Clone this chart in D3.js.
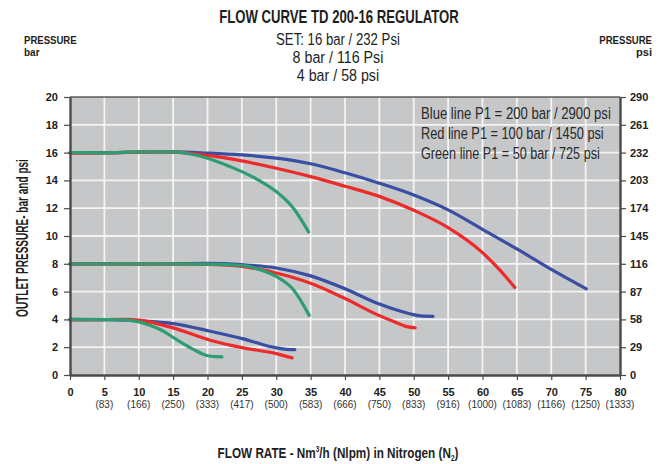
<!DOCTYPE html>
<html>
<head>
<meta charset="utf-8">
<script src="https://cdn.jsdelivr.net/npm/d3@7"></script>
<style>
  html, body { margin: 0; padding: 0; background: #ffffff; }
  svg { display: block; }
  .cond { font-family: "Liberation Sans", Arial, sans-serif; }
  .tick-font { font-family: "Liberation Sans", Arial, sans-serif; }
</style>
</head>
<body>
<svg id="chart" width="665" height="464"></svg>
<script>
// ---- data -------------------------------------------------------------
const flowTicks = [0, 5, 10, 15, 20, 25, 30, 35, 40, 45, 50, 55, 60, 65, 70, 75, 80];
const nlpmLabels = ["", "(83)", "(166)", "(250)", "(333)", "(417)", "(500)", "(583)", "(666)",
                    "(750)", "(833)", "(916)", "(1000)", "(1083)", "(1166)", "(1250)", "(1333)"];
const barTicks = [0, 2, 4, 6, 8, 10, 12, 14, 16, 18, 20];
const psiLabels = ["0", "29", "58", "87", "116", "145", "174", "203", "232", "261", "290"];

// [flow Nm3/h, outlet pressure bar]
const blue16 = [[0,16],[5,16],[10,16.04],[15,16.05],[20,15.97],[25,15.84],[30,15.6],[35,15.2],[40,14.55],
                [45,13.8],[50,12.95],[55,11.88],[60,10.48],[65,9.07],[70,7.6],[75.1,6.2]];
const red16 = [[0,15.96],[5,15.97],[10,16.03],[15,16.03],[20,15.8],[25,15.4],[30,14.87],[35,14.27],
               [40,13.58],[45,12.85],[50,11.85],[55,10.6],[60,8.8],[62.5,7.56],[64.7,6.3]];
const green16 = [[0,16],[5,15.98],[10,16.05],[15,16.05],[17.5,15.9],[20,15.6],[22.5,15.15],[25,14.63],
                 [27.5,14.0],[30,13.2],[32.5,12.0],[34.7,10.3]];

const blue8 = [[0,8],[5,8.01],[10,8],[15,8.01],[20,8.03],[25,7.94],[30,7.7],[35,7.13],[40,6.2],
               [45,5.1],[49.4,4.41],[51,4.25],[52.8,4.22]];
const red8 = [[0,7.98],[5,7.98],[10,7.98],[15,7.98],[20,7.95],[25,7.81],[30,7.34],[35,6.6],[40,5.5],
              [45,4.27],[47,3.86],[49,3.48],[50.2,3.39]];
const green8 = [[0,8],[5,8],[10,8],[15,8],[20,7.98],[25,7.88],[27.5,7.6],[30,7.09],[32.5,6.14],[34.8,4.29]];

const blue4 = [[0,4],[5,3.98],[8,3.95],[10,3.9],[15,3.7],[20.4,3.15],[25.2,2.6],[30,1.95],[31.5,1.85],[32.7,1.83]];
const red4 = [[0,3.96],[5,3.99],[8,4.0],[10,3.95],[15,3.39],[20.4,2.5],[25.2,1.95],[30,1.54],[32.3,1.23]];
const green4 = [[0,4],[5,3.98],[8,3.97],[9.7,3.86],[11.5,3.6],[13.1,3.27],[15.5,2.55],[18,1.83],
                [19.9,1.4],[21,1.32],[22.1,1.31]];

const series = [
  { color: "#3a4ea3", curves: [blue16, blue8, blue4] },
  { color: "#ee2a2a", curves: [red16, red8, red4] },
  { color: "#2e9e72", curves: [green16, green8, green4] }
];

const legendLines = [
  "Blue line P1 = 200 bar / 2900 psi",
  "Red line P1 = 100 bar / 1450 psi",
  "Green line P1 = 50 bar / 725 psi"
];
const legendWidths = [190, 183, 179];

const setLines = ["SET: 16 bar / 232 Psi", "8 bar / 116 Psi", "4 bar / 58 psi"];

// ---- layout -----------------------------------------------------------
const svg = d3.select("#chart");
const plot = { left: 70, right: 620, top: 97, bottom: 375 };

const x = d3.scaleLinear().domain([0, 80]).range([plot.left, plot.right]);
const y = d3.scaleLinear().domain([0, 20]).range([plot.bottom, plot.top]);

// squeeze a text horizontally about its anchor point so it spans `w` pixels
function condense(sel, w, ax, ay) {
  const bw = sel.node().getBBox().width;
  const k = bw > 0 ? w / bw : 1;
  sel.attr("transform", `translate(${ax},${ay}) scale(${k},1) translate(${-ax},${-ay})`);
  return k;
}
function squeezeBy(sel, k, ax, ay) {
  sel.attr("transform", `translate(${ax},${ay}) scale(${k},1) translate(${-ax},${-ay})`);
}

// plot background
svg.append("rect")
  .attr("x", plot.left).attr("y", plot.top)
  .attr("width", plot.right - plot.left).attr("height", plot.bottom - plot.top)
  .attr("fill", "#c6c7c9");

// grid
const grid = svg.append("g").attr("stroke", "#f4f4f4").attr("stroke-width", 1.8);
grid.selectAll("line.v").data(flowTicks.filter(d => d > 0 && d < 80)).join("line")
  .attr("x1", d => x(d)).attr("x2", d => x(d))
  .attr("y1", plot.top).attr("y2", plot.bottom);
grid.selectAll("line.h").data(barTicks.filter(d => d > 0 && d < 20)).join("line")
  .attr("x1", plot.left).attr("x2", plot.right)
  .attr("y1", d => y(d)).attr("y2", d => y(d));

// top frame line
svg.append("line")
  .attr("x1", plot.left).attr("x2", plot.right)
  .attr("y1", plot.top).attr("y2", plot.top)
  .attr("stroke", "#5a5a5a").attr("stroke-width", 1.5);

// curves
const line = d3.line()
  .x(d => x(d[0])).y(d => y(d[1]))
  .curve(d3.curveMonotoneX);

series.forEach(s => {
  svg.append("g").selectAll("path").data(s.curves).join("path")
    .attr("d", line)
    .attr("fill", "none")
    .attr("stroke", s.color)
    .attr("stroke-width", 3.2)
    .attr("stroke-linecap", "round")
    .attr("stroke-linejoin", "round");
});

// axes
function styleAxis(g) {
  g.select(".domain").attr("stroke", "#4a4a4a").attr("stroke-width", 2.4);
  g.selectAll(".tick line").attr("stroke", "#4a4a4a").attr("stroke-width", 1.2);
  g.selectAll(".tick text")
    .attr("class", "tick-font")
    .attr("font-size", 11).attr("font-weight", "bold").attr("fill", "#222");
}

const leftAxis = svg.append("g")
  .attr("transform", `translate(${plot.left},0)`)
  .call(d3.axisLeft(y).tickValues(barTicks).tickSize(6).tickSizeOuter(0).tickPadding(6));
styleAxis(leftAxis);

const rightAxis = svg.append("g")
  .attr("transform", `translate(${plot.right},0)`)
  .call(d3.axisRight(y).tickValues(barTicks).tickSize(6).tickSizeOuter(0).tickPadding(4)
        .tickFormat((d, i) => psiLabels[i]));
styleAxis(rightAxis);

const bottomAxis = svg.append("g")
  .attr("transform", `translate(0,${plot.bottom})`)
  .call(d3.axisBottom(x).tickValues(flowTicks).tickSize(5).tickSizeOuter(0).tickPadding(8));
styleAxis(bottomAxis);
bottomAxis.selectAll(".tick text").attr("dy", "0.71em");

// second line of bottom labels (Nlpm)
svg.append("g").selectAll("text").data(flowTicks).join("text")
  .attr("class", "tick-font")
  .attr("x", d => x(d))
  .attr("y", 408)
  .attr("text-anchor", "middle")
  .attr("font-size", 10)
  .attr("fill", "#333")
  .text((d, i) => nlpmLabels[i]);

// legend text inside plot
svg.append("g").selectAll("text").data(legendLines).join("text")
  .attr("class", "cond")
  .attr("x", 421)
  .attr("y", (d, i) => 119 + i * 20)
  .attr("font-size", 17)
  .attr("fill", "#2a2a2a")
  .text(d => d)
  .each(function (d, i) { condense(d3.select(this), legendWidths[i], 421, 119 + i * 20); });

// titles
const title = svg.append("g").attr("class", "cond").attr("fill", "#1e1e1e");
const mainTitle = title.append("text").attr("x", 339).attr("y", 23).attr("text-anchor", "middle")
  .attr("font-size", 17.5).attr("font-weight", "bold")
  .text("FLOW CURVE TD 200-16 REGULATOR");
condense(mainTitle, 240, 339, 23);

// set-point lines share one horizontal squeeze so they read as one font
let setK = null;
setLines.forEach((t, i) => {
  const s = title.append("text").attr("x", 338).attr("y", 45 + i * 18).attr("text-anchor", "middle")
    .attr("font-size", 17).text(t);
  if (setK === null) setK = condense(s, 124, 338, 45);
  else squeezeBy(s, setK * 1.08, 338, 45 + i * 18);
});

const pl = title.append("text").attr("x", 24).attr("y", 44).attr("font-size", 11.5).attr("font-weight", "bold").text("PRESSURE");
condense(pl, 53, 24, 44);
const bl = title.append("text").attr("x", 24).attr("y", 56).attr("font-size", 11.5).attr("font-weight", "bold").text("bar");
condense(bl, 16, 24, 56);
const pr = title.append("text").attr("x", 652).attr("y", 44).attr("text-anchor", "end").attr("font-size", 11.5).attr("font-weight", "bold").text("PRESSURE");
condense(pr, 53, 652, 44);
const ps = title.append("text").attr("x", 652).attr("y", 56).attr("text-anchor", "end").attr("font-size", 11.5).attr("font-weight", "bold").text("psi");
condense(ps, 16, 652, 56);

// rotated y-axis title: squeeze along its own baseline
const yTitleG = title.append("g").attr("transform", "translate(28,238) rotate(-90)");
const yTitle = yTitleG.append("text")
  .attr("x", 0).attr("y", 0)
  .attr("text-anchor", "middle")
  .attr("font-size", 16).attr("font-weight", "bold")
  .text("OUTLET PRESSURE- bar and psi");
condense(yTitle, 158, 0, 0);

const xt = title.append("text")
  .attr("x", 338).attr("y", 458).attr("text-anchor", "middle")
  .attr("font-size", 15.5).attr("font-weight", "bold");
xt.append("tspan").text("FLOW RATE - Nm");
xt.append("tspan").attr("font-size", 8.5).attr("dy", -5.5).text("3");
xt.append("tspan").attr("dy", 5.5).text("/h (Nlpm) in Nitrogen (N");
xt.append("tspan").attr("font-size", 8.5).attr("dy", 3).text("2");
xt.append("tspan").attr("dy", -3).text(")");
condense(xt, 241, 338, 458);
</script>
</body>
</html>
